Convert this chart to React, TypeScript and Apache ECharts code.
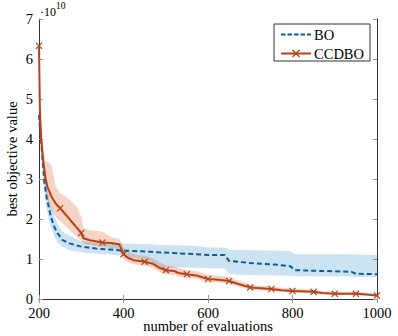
import React, { useEffect, useRef } from "react";
import * as echarts from "echarts";

// ---- data (values in units of 1e10) ----
const ccdboX = [200, 202, 205, 210, 215, 220, 225, 230, 240, 250, 260, 270, 280, 290, 300, 305, 320, 340, 350, 370, 390, 395, 400, 410, 425, 450, 470, 485, 500, 520, 530, 550, 575, 590, 600, 625, 650, 670, 690, 700, 725, 750, 775, 800, 850, 870, 900, 950, 975, 1000];
const ccdboY = [6.33, 4.8, 4.0, 3.45, 3.05, 2.8, 2.68, 2.55, 2.38, 2.27, 2.15, 2.03, 1.9, 1.78, 1.65, 1.52, 1.47, 1.43, 1.41, 1.4, 1.37, 1.25, 1.12, 1.03, 0.97, 0.93, 0.88, 0.78, 0.72, 0.7, 0.65, 0.62, 0.58, 0.53, 0.5, 0.48, 0.45, 0.38, 0.32, 0.29, 0.27, 0.25, 0.22, 0.2, 0.18, 0.15, 0.13, 0.13, 0.11, 0.09];
const ccdboUpper = [6.33, 5.0, 4.3, 3.9, 3.45, 3.42, 3.4, 3.3, 2.8, 2.65, 2.58, 2.5, 2.4, 2.3, 2.05, 1.78, 1.72, 1.7, 1.68, 1.55, 1.5, 1.42, 1.3, 1.2, 1.12, 1.08, 1.02, 0.92, 0.85, 0.82, 0.77, 0.73, 0.69, 0.63, 0.6, 0.58, 0.55, 0.47, 0.4, 0.36, 0.33, 0.31, 0.28, 0.26, 0.23, 0.2, 0.18, 0.18, 0.16, 0.14];
const ccdboLower = [6.33, 4.6, 3.7, 3.1, 2.75, 2.5, 2.35, 2.2, 2.05, 1.95, 1.85, 1.75, 1.65, 1.55, 1.45, 1.38, 1.35, 1.32, 1.3, 1.28, 1.25, 1.12, 1.0, 0.92, 0.87, 0.83, 0.77, 0.68, 0.62, 0.6, 0.56, 0.53, 0.5, 0.45, 0.42, 0.41, 0.38, 0.31, 0.26, 0.23, 0.22, 0.2, 0.18, 0.16, 0.14, 0.12, 0.1, 0.1, 0.08, 0.06];

const boX = [200, 202, 205, 209, 213, 218, 222, 228, 236, 244, 256, 272, 300, 335, 400, 465, 480, 570, 600, 640, 650, 700, 760, 795, 805, 940, 950, 1000];
const boY = [4.6, 4.3, 3.97, 3.4, 2.9, 2.55, 2.35, 2.06, 1.81, 1.64, 1.47, 1.39, 1.31, 1.26, 1.21, 1.18, 1.17, 1.12, 1.1, 1.1, 0.95, 0.9, 0.86, 0.82, 0.72, 0.68, 0.63, 0.62];
const boUpper = [4.7, 4.5, 4.2, 3.7, 3.2, 2.85, 2.65, 2.35, 2.08, 1.88, 1.68, 1.58, 1.45, 1.4, 1.39, 1.37, 1.35, 1.33, 1.29, 1.29, 1.23, 1.22, 1.21, 1.2, 1.12, 1.12, 1.11, 1.1];
const boLower = [4.5, 4.1, 3.75, 3.1, 2.6, 2.25, 2.05, 1.8, 1.57, 1.42, 1.3, 1.22, 1.17, 1.14, 1.08, 0.95, 0.8, 0.78, 0.77, 0.77, 0.62, 0.6, 0.59, 0.58, 0.57, 0.56, 0.55, 0.55];

const markerEvery = 50;
const xMin = 200, xMax = 1000, xStep = 200;
const yMin = 0, yMax = 7, yStep = 1;
const multBase = "\u00B710";
const multExp = "10";

const FONT = "Times New Roman";
const BLUE = "#0b5e9e";
const RED = "#b5441b";
const X_MARK = "path://M0,1.2L1.2,0L5,3.8L8.8,0L10,1.2L6.2,5L10,8.8L8.8,10L5,6.2L1.2,10L0,8.8L3.8,5Z";
const DASH_ICON = "path://M0,4H4.5V6H0Z M6.5,4H11V6H6.5Z M13,4H17.5V6H13Z M19.5,4H24V6H19.5Z M26,4H30V6H26Z";

function band(xs: number[], lo: number[], hi: number[], fill: string, opacity: number) {
  return {
    type: "custom",
    silent: true,
    z: 1,
    clip: true,
    data: [[xs[0], lo[0]]],
    renderItem: (_p: any, api: any) => {
      const pts: number[][] = [];
      for (let i = 0; i < xs.length; i++) pts.push(api.coord([xs[i], hi[i]]));
      for (let i = xs.length - 1; i >= 0; i--) pts.push(api.coord([xs[i], lo[i]]));
      return { type: "polygon", shape: { points: pts }, style: { fill, opacity } };
    },
  };
}

export default function App() {
  const ref = useRef<HTMLDivElement>(null);
  useEffect(() => {
    const chart = echarts.init(ref.current!, null, { renderer: "svg" });
    const axisCommon = {
      type: "value",
      axisLine: { show: true, lineStyle: { color: "#333", width: 1 } },
      axisTick: { show: true, inside: true, length: 4, lineStyle: { color: "#999" } },
      splitLine: { show: false },
    };
    const txt = { fontFamily: FONT, fontSize: 14.5, color: "#000" };
    chart.setOption({
      animation: false,
      grid: { left: 39, right: 21, top: 19, bottom: 37, show: false, containLabel: false, outerBoundsMode: "none" },
      legend: {
        data: [{ name: "BO", icon: DASH_ICON }, { name: "CCDBO" }],
        orient: "vertical",
        right: 28,
        top: 24,
        itemGap: 4,
        padding: [3, 6, 0, 6],
        itemWidth: 30,
        itemHeight: 10,
        borderColor: "#333",
        borderWidth: 1,
        borderRadius: 0,
        backgroundColor: "#fff",
        textStyle: { ...txt, lineHeight: 14, padding: [0, 0, 0, -2] },
      },
      graphic: {
        elements: [
          {
            type: "group",
            id: "mult",
            x: 40,
            y: 1,
            children: [
              {
                type: "text",
                id: "multBase",
                x: 0,
                y: 5,
                style: { text: multBase, fontFamily: FONT, fontSize: 12, fontWeight: "normal", fill: "#000" },
              },
              {
                type: "text",
                id: "multExp",
                x: 16,
                y: 0,
                style: { text: multExp, fontFamily: FONT, fontSize: 9.5, fontWeight: "normal", fill: "#000" },
              },
            ],
          },
        ],
      },
      xAxis: [
        {
          ...axisCommon,
          min: xMin, max: xMax, interval: xStep,
          name: "number of evaluations",
          nameLocation: "middle",
          nameGap: 19,
          nameMoveOverlap: false,
          nameTextStyle: txt,
          axisLabel: { ...txt, margin: 6, formatter: (v: number) => String(v) },
        },
        {
          ...axisCommon,
          position: "top",
          min: xMin, max: xMax, interval: xStep,
          axisLabel: { show: false },
        },
      ],
      yAxis: [
        {
          ...axisCommon,
          min: yMin, max: yMax, interval: yStep,
          name: "best objective value",
          nameLocation: "middle",
          nameGap: 20,
          nameMoveOverlap: false,
          nameTextStyle: txt,
          axisLabel: { ...txt, margin: 6 },
        },
        {
          ...axisCommon,
          position: "right",
          min: yMin, max: yMax, interval: yStep,
          axisLabel: { show: false },
        },
      ],
      series: [
        band(boX, boLower, boUpper, "#0072BD", 0.2),
        band(ccdboX, ccdboLower, ccdboUpper, "#D95319", 0.25),
        {
          name: "BO",
          type: "line",
          z: 3,
          symbol: "none",
          data: boX.map((x, i) => [x, boY[i]]),
          lineStyle: { color: BLUE, width: 2, type: [5, 3] },
          itemStyle: { color: BLUE },
        },
        {
          name: "CCDBO",
          type: "line",
          z: 4,
          symbol: X_MARK,
          symbolSize: 7,
          showSymbol: true,
          showAllSymbol: true,
          data: ccdboX.map((x, i) => ({
            value: [x, ccdboY[i]],
            symbol: x % markerEvery === 0 ? X_MARK : "none",
          })),
          lineStyle: { color: RED, width: 2 },
          itemStyle: { color: RED },
        },
      ],
    });
    return () => chart.dispose();
  }, []);
  return <div ref={ref} style={{ width: 398, height: 336, position: "absolute", left: 0, top: 0, background: "#fff" }} />;
}
